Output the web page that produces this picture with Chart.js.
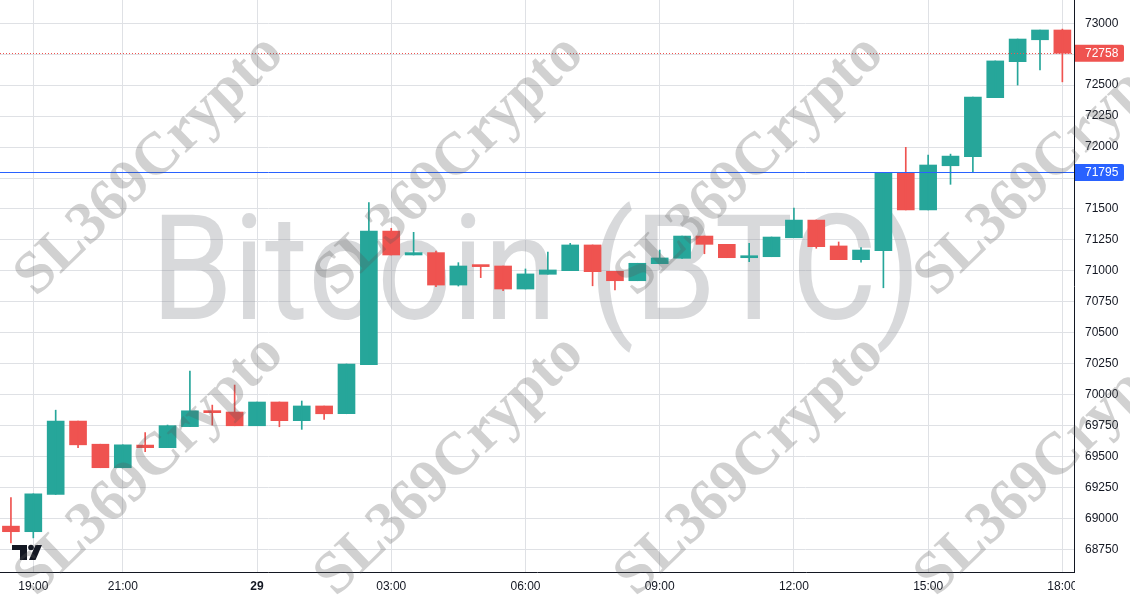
<!DOCTYPE html>
<html><head><meta charset="utf-8">
<script src="https://cdn.jsdelivr.net/npm/chart.js@4.4.1/dist/chart.umd.min.js"></script>
<style>html,body{margin:0;padding:0;background:#fff}#wrap{width:1130px;height:600px;position:relative}</style>
</head><body><div id="wrap"><canvas id="c"></canvas></div>
<script>
// ---- data (30-minute BTC candles) ----
const times = ['18:30','19:00','19:30','20:00','20:30','21:00','21:30','22:00','22:30','23:00','23:30','00:00',
  '00:30','01:00','01:30','02:00','02:30','03:00','03:30','04:00','04:30','05:00','05:30','06:00',
  '06:30','07:00','07:30','08:00','08:30','09:00','09:30','10:00','10:30','11:00','11:30','12:00',
  '12:30','13:00','13:30','14:00','14:30','15:00','15:30','16:00','16:30','17:00','17:30','18:00'];
const open  = [68937,68892,69193,69786,69599,69409,69592,69571,69741,69867,69859,69748,
  69940,69789,69908,69845,70241,71321,71128,71147,70885,71039,71039,70853,
  70972,71001,71209,70996,70920,71058,71101,71281,71214,71106,71114,71267,
  71410,71201,71090,71163,71795,71492,71849,71922,72399,72690,72867,72946];
const high  = [69168,69198,69874,69786,69599,69594,69692,69754,70190,69915,70077,69940,
  69940,69948,69908,70247,71551,71343,71311,71160,71066,71039,71039,71015,
  71152,71222,71209,70996,71061,71168,71281,71281,71214,71222,71273,71506,
  71410,71233,71187,71795,71998,71935,71943,72404,72696,72873,72946,72953];
const low   = [68802,68842,69193,69571,69409,69409,69539,69571,69741,69754,69748,69748,
  69740,69719,69800,69845,70241,71128,71128,70871,70877,70945,70839,70853,
  70972,71001,70879,70845,70920,71058,71101,71138,71106,71074,71114,71267,
  71182,71090,71069,70863,71492,71492,71699,71796,72399,72501,72623,72527];
const close = [68892,69198,69786,69594,69409,69594,69571,69749,69869,69854,69748,69940,
  69789,69908,69845,70247,71321,71128,71147,70885,71039,71034,70853,70975,
  71007,71209,70993,70920,71061,71104,71281,71214,71106,71120,71273,71410,
  71195,71090,71168,71795,71492,71855,71927,72404,72696,72873,72946,72758];
const xTickTimes  = ['19:00','21:00','00:00','03:00','06:00','09:00','12:00','15:00','18:00'];
const xTickLabels = ['19:00','21:00','29','03:00','06:00','09:00','12:00','15:00','18:00'];
const yTicks = [68750,69000,69250,69500,69750,70000,70250,70500,70750,71000,71250,71500,71750,72000,72250,72500,72750,73000];
const lastPrice = 72758;
const markedLevel = 71795;
const titleMark = 'Bitcoin (BTC)';
const tagMark = 'SL369Crypto';

// ---- styling ----
const UP = '#26a69a', DOWN = '#ef5350', TEXT = '#131722', GRID = '#dfe1e5', BLUE = '#2962ff';
const FONT = "'Liberation Sans', Arial, sans-serif";
const colors = close.map((c, i) => c >= open[i] ? UP : DOWN);
const xTickIdx = xTickTimes.map(t => times.indexOf(t));

const wickData = times.map((t, i) => ({x: i, y: [low[i], high[i]]}));
const bodyData = times.map((t, i) => ({x: i, y: [open[i], close[i]]}));

const overlay = {
  id: 'overlay',
  beforeDatasetsDraw(chart) {
    const {ctx, chartArea: a} = chart;
    ctx.save();
    ctx.beginPath(); ctx.rect(a.left, a.top, a.right - a.left, a.bottom - a.top); ctx.clip();
    ctx.fillStyle = 'rgba(140,143,150,0.34)';
    ctx.font = "146px Roboto, 'Liberation Sans', sans-serif";
    ctx.textBaseline = 'alphabetic';
    const w = ctx.measureText(titleMark).width;
    const target = 770;
    ctx.translate(536, 319);
    ctx.scale(target / w, 1);
    ctx.textAlign = 'center';
    ctx.fillText(titleMark, 0, 0);
    ctx.restore();
  },
  afterDraw(chart) {
    const {ctx, chartArea: a, scales: {y}} = chart;
    ctx.save();
    // time labels are clipped at the price axis
    ctx.fillStyle = '#fff';
    ctx.fillRect(a.right + 1, a.bottom + 1, chart.width - a.right, chart.height - a.bottom);
    // last price (red dotted)
    const yr = Math.round(y.getPixelForValue(lastPrice)) + 0.5;
    ctx.lineWidth = 1;
    ctx.strokeStyle = DOWN; ctx.setLineDash([1, 2]);
    ctx.beginPath(); ctx.moveTo(a.left, yr); ctx.lineTo(a.right, yr); ctx.stroke();
    ctx.setLineDash([]);
    // marked level (blue)
    const yb = Math.round(y.getPixelForValue(markedLevel)) + 0.5;
    ctx.strokeStyle = BLUE;
    ctx.beginPath(); ctx.moveTo(a.left, yb); ctx.lineTo(a.right, yb); ctx.stroke();
    // price labels
    const box = (val, col) => {
      const py = y.getPixelForValue(val);
      const x0 = a.right + 1, w = 49, h = 17;
      ctx.fillStyle = col;
      ctx.beginPath();
      if (ctx.roundRect) ctx.roundRect(x0, py - h / 2, w, h, [0, 2, 2, 0]); else ctx.rect(x0, py - h / 2, w, h);
      ctx.fill();
      ctx.fillStyle = '#fff'; ctx.font = '12px ' + FONT;
      ctx.textAlign = 'left'; ctx.textBaseline = 'middle';
      ctx.fillText(String(val), a.right + 11, py + 0.5);
    };
    box(lastPrice, DOWN);
    box(markedLevel, BLUE);
    // TradingView logo
    ctx.fillStyle = TEXT;
    ctx.fillRect(12, 545, 15, 5);
    ctx.fillRect(20, 545, 7, 15);
    ctx.beginPath(); ctx.arc(31, 547.5, 2.8, 0, Math.PI * 2); ctx.fill();
    ctx.beginPath(); ctx.moveTo(35.5, 545); ctx.lineTo(42, 545); ctx.lineTo(35.5, 560); ctx.lineTo(29, 560); ctx.closePath(); ctx.fill();
    // diagonal tag watermarks
    ctx.fillStyle = 'rgba(90,90,90,0.28)';
    ctx.font = "bold 60px 'Liberation Serif', serif";
    ctx.textAlign = 'center'; ctx.textBaseline = 'middle';
    [150, 450, 750, 1050].forEach(cx => [166, 466].forEach(cy => {
      ctx.save(); ctx.translate(cx, cy); ctx.rotate(-44 * Math.PI / 180);
      ctx.fillText(tagMark, 0, 0); ctx.restore();
    }));
    ctx.restore();
  }
};

new Chart(document.getElementById('c'), {
  type: 'bar',
  data: {
    datasets: [
      {label: 'wick', data: wickData, backgroundColor: colors, barThickness: 1, grouped: false, minBarLength: 1},
      {label: 'body', data: bodyData, backgroundColor: colors, barThickness: 17, grouped: false, minBarLength: 2}
    ]
  },
  options: {
    responsive: true, maintainAspectRatio: false, animation: false, devicePixelRatio: 1,
    layout: {padding: 0},
    plugins: {legend: {display: false}, tooltip: {enabled: false}},
    scales: {
      x: {
        type: 'linear', min: -0.489, max: 47.52, offset: false,
        grid: {color: GRID, drawTicks: false, offset: false},
        border: {color: TEXT},
        afterBuildTicks: s => { s.ticks = xTickIdx.map(v => ({value: v})); },
        afterFit: s => { s.height = 28; s.paddingLeft = 0; s.paddingRight = 0; },
        ticks: {
          autoSkip: false, maxRotation: 0, padding: 7, color: TEXT,
          font: c => ({family: FONT, size: 12, weight: (c.tick && c.tick.label === '29') ? 'bold' : 'normal'}),
          callback: v => xTickLabels[xTickIdx.indexOf(v)]
        }
      },
      y: {
        position: 'right', min: 68566.4, max: 73188.3,
        grid: {color: GRID, drawTicks: false},
        border: {color: TEXT},
        afterBuildTicks: s => { s.ticks = yTicks.map(v => ({value: v})); },
        afterFit: s => { s.width = 56; s.paddingTop = 0; s.paddingBottom = 0; },
        ticks: {padding: 11, color: TEXT, font: {family: FONT, size: 12}, callback: v => String(v)}
      }
    }
  },
  plugins: [overlay]
});
</script></body></html>
